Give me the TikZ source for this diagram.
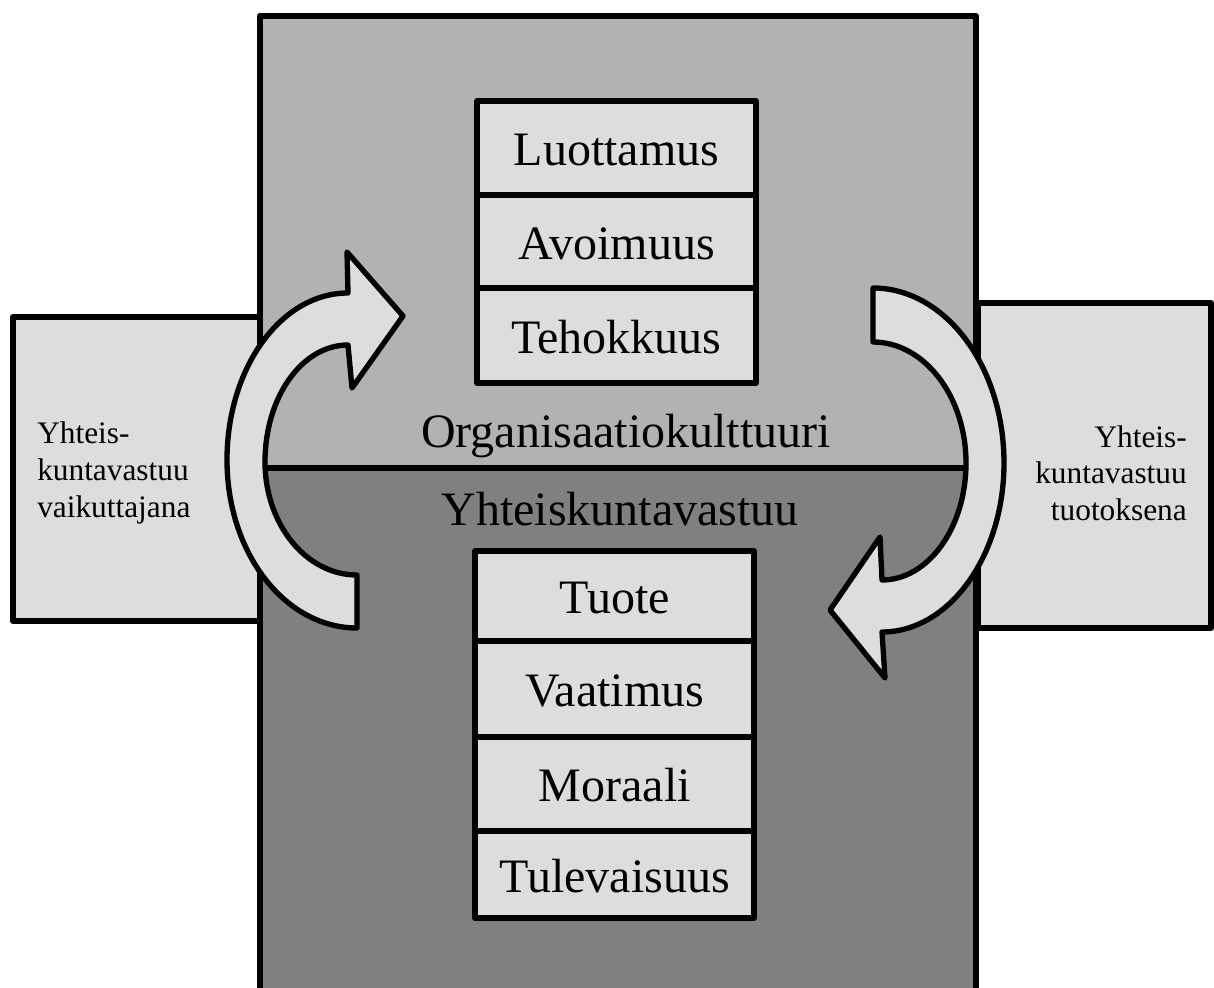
\documentclass[tikz,border=0pt]{standalone}
\usepackage{fontspec}
\setmainfont{Liberation Serif}
\definecolor{uppergray}{RGB}{178,178,178}
\definecolor{lowergray}{RGB}{128,128,128}
\definecolor{lightgray2}{RGB}{221,221,221}
\begin{document}
\begin{tikzpicture}[x=0.75pt,y=-0.75pt,line join=round,
  frame/.style={draw=black,line width=4.5pt},
  sidebox/.style={draw=black,fill=lightgray2,line width=4.5pt,inner sep=0pt},
  cell/.style={draw=black,fill=lightgray2,line width=4.5pt,inner sep=0pt,
    minimum width=209pt,text height=26.25pt,text depth=0pt,
    font=\fontsize{36}{43}\selectfont},
  biglabel/.style={inner sep=0pt,anchor=base,font=\fontsize{36}{43}\selectfont},
  sidetext/.style={inner sep=0pt,font=\fontsize{23.5}{27.5}\selectfont},
  arrowshape/.style={draw=black,fill=lightgray2,line width=4pt}]
\useasboundingbox (0,0) rectangle (1214,988);
% side boxes
\node[sidebox,minimum width=185.25pt,minimum height=228pt] (lbox) at (136.5,469) {};
\node[sidebox,minimum width=174.75pt,minimum height=243.75pt] (rbox) at (1094.5,465.5) {};
% main box
\fill[uppergray] (260,16) rectangle (976,468);
\fill[lowergray] (260,468) rectangle (976,991);
\draw[frame] (260,16) rectangle (976,991);
\draw[frame] (260,468) -- (976,468);
% upper stack
\node[cell,minimum height=70.5pt] (c1) at (616.5,148) {Luottamus};
\node[cell,minimum height=69.75pt] (c2) at (616.5,241.5) {Avoimuus};
\node[cell,minimum height=71.25pt] (c3) at (616.5,335.5) {Tehokkuus};
% lower stack
\node[cell,minimum height=67.5pt] (d1) at (614.75,596) {Tuote};
\node[cell,minimum height=72pt] (d2) at (614.75,689) {Vaatimus};
\node[cell,minimum height=70.5pt] (d3) at (614.75,784) {Moraali};
\node[cell,minimum height=65.25pt] (d4) at (614.75,874.5) {Tulevaisuus};
% labels
\node[biglabel] (org) at (626,447) {Organisaatiokulttuuri};
\node[biglabel] (yht) at (620,525) {Yhteiskuntavastuu};
\node[sidetext,align=left,anchor=west] (ltext) at (37,473) {Yhteis-\\kuntavastuu\\vaikuttajana};
\node[sidetext,align=right,anchor=east] (rtext) at (1187,473) {Yhteis-\\kuntavastuu\\tuotoksena};
% curved arrows
\draw[arrowshape] (357,628) -- (357,575)
  .. controls (306,575) and (265,524) .. (265,462)
  .. controls (265,397) and (302,345) .. (348,345)
  -- (352,388) -- (403,316) -- (347,252) -- (348,293)
  .. controls (281,293) and (227,368) .. (227,460)
  .. controls (227,553) and (285,628) .. (357,628) -- cycle;
\draw[arrowshape] (873,288) -- (873,342)
  .. controls (924,342) and (966,396) .. (966,463)
  .. controls (966,528) and (928,580) .. (882,580)
  -- (880,537) -- (830,610) -- (885,678) -- (882,632)
  .. controls (949,632) and (1004,556) .. (1004,463)
  .. controls (1004,366) and (945,288) .. (873,288) -- cycle;
\end{tikzpicture}
\end{document}
